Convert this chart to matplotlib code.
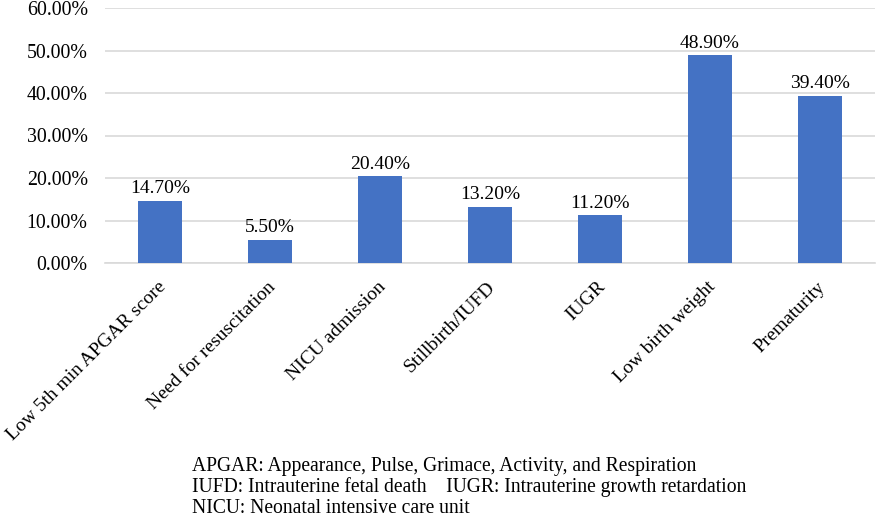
import matplotlib
matplotlib.use("Agg")
import matplotlib.pyplot as plt
from matplotlib.ticker import FuncFormatter, MultipleLocator
from matplotlib.transforms import ScaledTranslation

categories = ["Low 5th min APGAR score", "Need for resuscitation", "NICU admission",
              "Stillbirth/IUFD", "IUGR", "Low birth weight", "Prematurity"]
values = [14.70, 5.50, 20.40, 13.20, 11.20, 48.90, 39.40]
footnotes = ["APGAR: Appearance, Pulse, Grimace, Activity, and Respiration",
             "IUFD: Intrauterine fetal death    IUGR: Intrauterine growth retardation",
             "NICU: Neonatal intensive care unit"]

plt.rcParams['font.family'] = ['Liberation Serif', 'DejaVu Serif']

W, H = 878, 517
fig = plt.figure(figsize=(W/100, H/100), dpi=100)
ax = fig.add_axes([105/W, 1-263/H, (875-105)/W, (263-8)/H])

x = list(range(len(categories)))
bars = ax.bar(x, values, width=0.4, color="#4472C4", zorder=3)
for b, v in zip(bars, values):
    ax.annotate(f"{v:.2f}%", (b.get_x()+b.get_width()/2, v), xytext=(0, 2.5),
                textcoords="offset points", ha="center", va="bottom", fontsize=14)

ax.set_ylim(0, 60)
ax.set_xlim(-0.5, len(categories)-0.5)
ax.yaxis.set_major_locator(MultipleLocator(10))
ax.yaxis.set_major_formatter(FuncFormatter(lambda v, p: f"{v:.2f}%"))
ax.grid(axis="y", color="#D9D9D9", linewidth=1.2, zorder=0)
for s in ["top", "right", "left"]:
    ax.spines[s].set_visible(False)
ax.spines["bottom"].set_color("#D9D9D9")
ax.spines["bottom"].set_linewidth(1.2)
ax.tick_params(axis="y", length=0, labelsize=14.3, pad=12.5)
ax.tick_params(axis="x", length=0, labelsize=14, pad=15.5)
ax.set_xticks(x)
ax.set_xticklabels(categories, rotation=45, ha="right", va="center",
                   rotation_mode="anchor")
shift = ScaledTranslation(3/100, 0, fig.dpi_scale_trans)
for lab in ax.get_xticklabels():
    lab.set_transform(lab.get_transform() + shift)

for i, t in enumerate(footnotes):
    fig.text(192/W, 1-(471+21*i)/H, t, ha="left", va="baseline", fontsize=14.1)

fig.savefig("out.png", dpi=100)
